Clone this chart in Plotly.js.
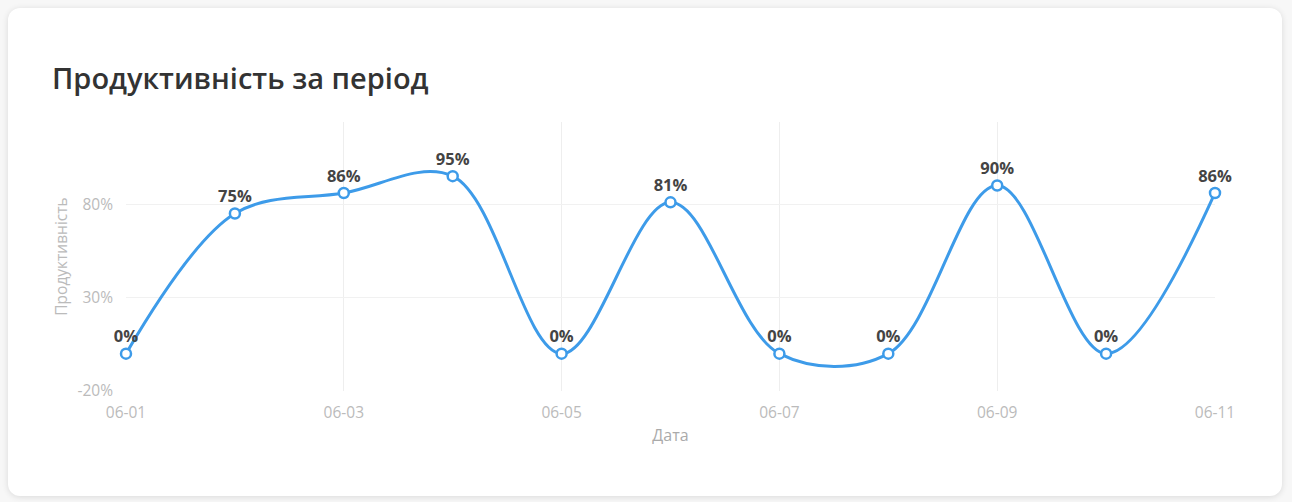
<!DOCTYPE html>
<html>
<head>
<meta charset="utf-8">
<script src="https://cdn.plot.ly/plotly-3.0.1.min.js"></script>
<style>
  html, body { margin: 0; padding: 0; background: #f7f7f7; width: 1292px; height: 502px; overflow: hidden; }
  #card { position: absolute; left: 8px; top: 8px; width: 1274px; height: 488px; background: #fff; border-radius: 12px; box-shadow: 0 1px 6px rgba(0,0,0,0.12); }
  #chart { position: absolute; left: 0; top: 0; width: 1292px; height: 502px; }
</style>
</head>
<body>
<div id="card"></div>
<div id="chart"></div>
<script>
const dates = ["06-01","06-02","06-03","06-04","06-05","06-06","06-07","06-08","06-09","06-10","06-11"];
const productivity = [0, 75, 86, 95, 0, 81, 0, 0, 90, 0, 86];
const tickDates = ["06-01","06-03","06-05","06-07","06-09","06-11"];
const yTicks = [-20, 30, 80];
const yTickLabels = ["-20%", "30%", "80%"];

const trace = {
  x: dates,
  y: productivity,
  type: "scatter",
  mode: "lines+markers+text",
  line: { shape: "spline", smoothing: 1, color: "#3d9be9", width: 3 },
  marker: { size: 10, color: "#ffffff", line: { color: "#3d9be9", width: 2.5 } },
  text: productivity.map(v => v + "%"),
  textposition: "top center",
  textfont: { family: "Open Sans, sans-serif", size: 16.5, color: "#444", weight: "bold" },
  cliponaxis: false,
  hoverinfo: "x+y"
};

const layout = {
  width: 1292,
  height: 502,
  paper_bgcolor: "rgba(0,0,0,0)",
  plot_bgcolor: "rgba(0,0,0,0)",
  margin: { l: 126, r: 77, t: 122, b: 111 },
  showlegend: false,
  font: { family: "Open Sans, sans-serif", color: "#bbb" },
  title: {
    text: "Продуктивність за період",
    xref: "container", yref: "container",
    x: 52/1292, xanchor: "left",
    y: 1 - 79/502, yanchor: "middle",
    font: { family: "Open Sans, sans-serif", size: 29, color: "#333", weight: 600 }
  },
  xaxis: {
    type: "category",
    tickmode: "array",
    tickvals: tickDates,
    ticktext: tickDates,
    range: [0, dates.length - 1],
    showgrid: true,
    gridcolor: "#eeeeee",
    gridwidth: 1,
    zeroline: false,
    showline: false,
    ticks: "",
    ticklabelstandoff: 10,
    tickfont: { size: 15.5, color: "#bbb" },
    title: { text: "Дата", font: { size: 16, color: "#aaa" }, standoff: 8 }
  },
  yaxis: {
    range: [-20, 124],
    tickmode: "array",
    tickvals: yTicks,
    ticktext: yTickLabels,
    showgrid: true,
    gridcolor: "#f1f1f1",
    gridwidth: 1,
    zeroline: false,
    showline: false,
    ticks: "",
    ticklabelstandoff: 12,
    tickfont: { size: 15.5, color: "#bbb" },
    title: { text: "Продуктивність", font: { size: 15.5, color: "#bbb" }, standoff: 6 }
  }
};

Plotly.newPlot("chart", [trace], layout, { displayModeBar: false, staticPlot: true });
</script>
</body>
</html>
